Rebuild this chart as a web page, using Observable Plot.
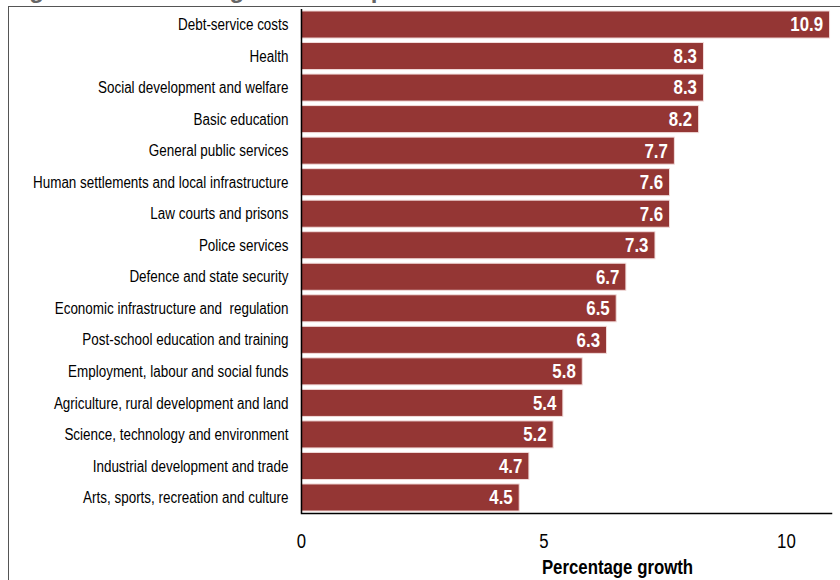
<!DOCTYPE html>
<html>
<head>
<meta charset="utf-8">
<script src="https://cdn.jsdelivr.net/npm/d3@7"></script>
<script src="https://cdn.jsdelivr.net/npm/@observablehq/plot@0.6"></script>
<style>
  html, body { margin: 0; padding: 0; background: #fff; overflow: hidden; }
  #wrap { position: relative; width: 840px; height: 580px; overflow: hidden; }
  #title { position: absolute; left: 8px; top: -24px; font-family: "Liberation Sans", Arial, sans-serif; font-weight: bold; font-size: 24px; color: #666; white-space: nowrap; }
  #frame { position: absolute; left: 8px; top: 6px; width: 840px; height: 580px; border-top: 1.5px solid #555; border-left: 1.5px solid #555; }
  #chart { position: absolute; left: 0; top: 0; }
</style>
</head>
<body>
<div id="wrap">
  <div id="title">Figure 1.3 Nominal growth in expenditure</div>
  <div id="frame"></div>
  <div id="chart"></div>
</div>
<script>
const categories = [
  "Debt-service costs",
  "Health",
  "Social development and welfare",
  "Basic education",
  "General public services",
  "Human settlements and local infrastructure",
  "Law courts and prisons",
  "Police services",
  "Defence and state security",
  "Economic infrastructure and  regulation",
  "Post-school education and training",
  "Employment, labour and social funds",
  "Agriculture, rural development and land",
  "Science, technology and environment",
  "Industrial development and trade",
  "Arts, sports, recreation and culture"
];
const growth = [10.9, 8.3, 8.3, 8.2, 7.7, 7.6, 7.6, 7.3, 6.7, 6.5, 6.3, 5.8, 5.4, 5.2, 4.7, 4.5];
const xTicks = [0, 5, 10];

const data = categories.map((c, i) => ({category: c, value: growth[i]}));
const font = '"Liberation Sans", Arial, sans-serif';

const chart = Plot.plot({
  width: 840,
  height: 580,
  marginLeft: 301,
  marginRight: 9,
  marginTop: 9,
  marginBottom: 67,
  style: {fontFamily: font, background: "transparent", color: "#000"},
  x: {domain: [0, 10.93]},
  y: {domain: categories, paddingInner: 0.142, paddingOuter: 0.063, round: false},
  marks: [
    Plot.barX(data, {x: "value", y: "category", fill: "#943634", stroke: "#f2dcdb", strokeWidth: 1}),
    Plot.text(data, {x: "value", y: "category", text: d => d.value.toFixed(1), textAnchor: "end", dx: -7, fill: "white", fontWeight: "bold", fontSize: 20}),
    Plot.ruleX([0], {stroke: "#000", strokeWidth: 1.5}),
    Plot.frame({anchor: "bottom", stroke: "#000", strokeWidth: 1.5}),
    Plot.axisY({tickSize: 0, tickPadding: 13, fontSize: 16, label: null}),
    Plot.axisX({ticks: xTicks, tickSize: 0, tickPadding: 20, fontSize: 20, label: "Percentage growth", labelAnchor: "center", labelArrow: "none", labelOffset: 60})
  ]
});
document.getElementById("chart").appendChild(chart);

// Axis label styling and placement
const lbl = chart.querySelector('[aria-label="x-axis label"] text');
if (lbl) {
  lbl.setAttribute("font-weight", "bold");
  lbl.setAttribute("font-size", "20");
  lbl.setAttribute("dx", "51");
}
chart.querySelectorAll('[aria-label="y-axis tick label"] text').forEach(t => { t.style.whiteSpace = "pre"; });

// Emulate a narrow (condensed) face: compress every text horizontally
chart.querySelectorAll("text").forEach(t => {
  const len = t.getComputedTextLength();
  if (len > 0) {
    t.setAttribute("textLength", (len * 0.84).toFixed(1));
    t.setAttribute("lengthAdjust", "spacingAndGlyphs");
  }
});
</script>
</body>
</html>
